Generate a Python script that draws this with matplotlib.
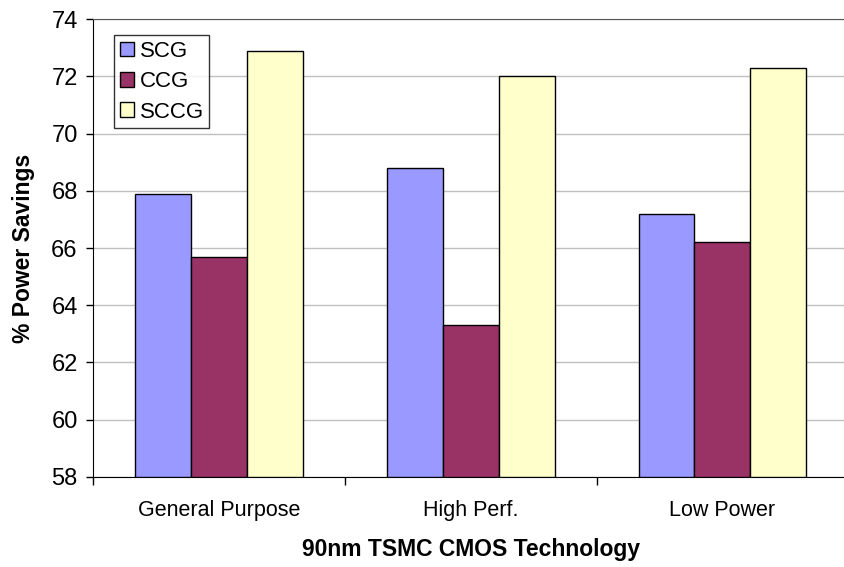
import numpy as np
import matplotlib.pyplot as plt
from matplotlib.ticker import FixedLocator

plt.rcParams['font.family'] = ['Liberation Sans', 'DejaVu Sans']

# data
categories = ['General Purpose', 'High Perf.', 'Low Power']
series_names = ['SCG', 'CCG', 'SCCG']
scg = [67.9, 68.8, 67.2]
ccg = [65.7, 63.3, 66.2]
sccg = [72.9, 72.0, 72.3]
colors = ['#9999FF', '#993366', '#FFFFCC']

fig = plt.figure(figsize=(8.45, 5.67), dpi=100)
ax = fig.add_axes([0.110, 0.159, 0.894, 0.807])

x = np.arange(len(categories))
width = 1 / 4.5
base = 58
for i, (vals, col, name) in enumerate(zip([scg, ccg, sccg], colors, series_names)):
    ax.bar(x + (i - 1) * width, np.array(vals) - base, width, bottom=base,
           color=col, edgecolor='black', linewidth=1.0, label=name, zorder=3)

ax.set_ylim(58, 74)
ax.set_xlim(-0.5, 2.5)
ax.set_yticks(np.arange(58, 75, 2))
ax.yaxis.grid(True, color='#c0c0c0', linewidth=1.0, zorder=0)
ax.set_axisbelow(True)

ax.set_xticks(x)
ax.set_xticklabels(categories, fontsize=15.5)
ax.tick_params(axis='x', length=0, pad=17)
ax.xaxis.set_minor_locator(FixedLocator([-0.5, 0.5, 1.5, 2.5]))
ax.tick_params(axis='x', which='minor', length=6, width=1, direction='out')
ax.tick_params(axis='y', labelsize=17, length=5, width=1, direction='out', pad=6)

ax.spines['right'].set_visible(False)
ax.spines['top'].set_color('#555555')
ax.spines['left'].set_color('black')
ax.spines['bottom'].set_color('black')

ax.set_ylabel('% Power Savings', fontsize=16.5, fontweight='bold', labelpad=12)
ax.set_xlabel('90nm TSMC CMOS Technology', fontsize=16.5, fontweight='bold', labelpad=12)

leg = ax.legend(loc='upper left', bbox_to_anchor=(0.028, 0.965), fontsize=16,
                frameon=True, fancybox=False, edgecolor='black',
                handlelength=0.65, handleheight=0.65, handletextpad=0.25,
                borderpad=0.25, labelspacing=0.42, borderaxespad=0)
leg.get_frame().set_linewidth(1.0)

fig.savefig('out.png', dpi=100)
